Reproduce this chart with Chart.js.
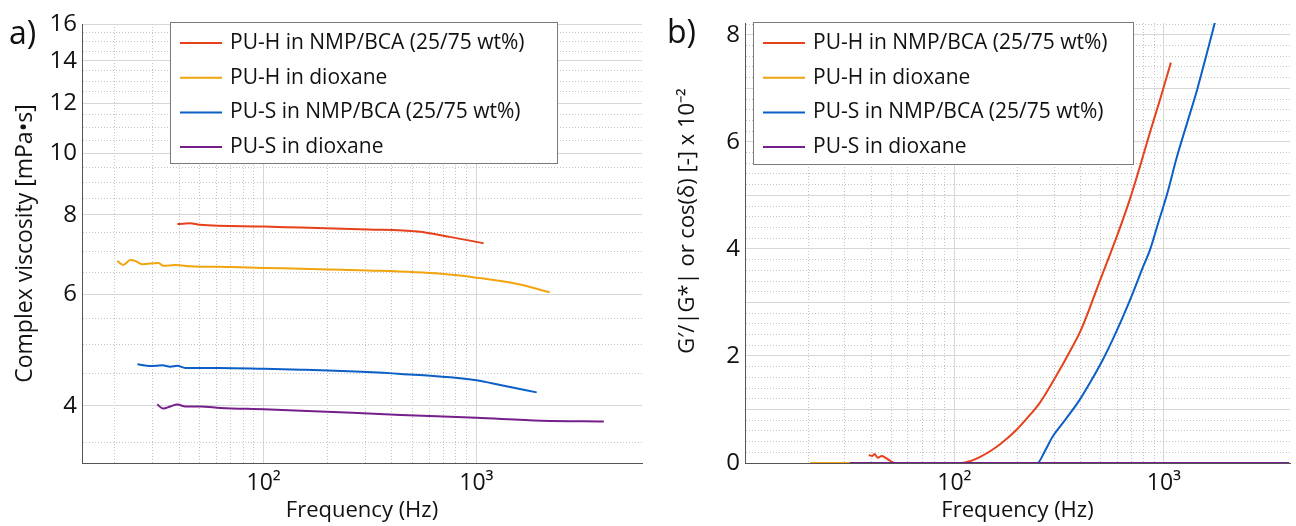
<!DOCTYPE html>
<html>
<head>
<meta charset="utf-8">
<script src="https://cdn.jsdelivr.net/npm/chart.js@4.4.0/dist/chart.umd.min.js"></script>
<style>
  html, body { margin: 0; padding: 0; background: #fff; }
  #wrap { position: relative; width: 1296px; height: 526px; }
  .panel { position: absolute; top: 0; width: 648px; height: 526px; }
  .tag { position: absolute; font-family: "Open Sans"; font-size: 32px; line-height: 1; color: #111; }
</style>
</head>
<body>
<div id="wrap">
  <div class="panel" style="left:0"><canvas id="viscChart" width="648" height="526"></canvas></div>
  <div class="panel" style="left:648px"><canvas id="ratioChart" width="648" height="526"></canvas></div>
  <div class="tag" style="left:9px;top:16px">a)</div>
  <div class="tag" style="left:667px;top:15px">b)</div>
</div>
<script>
// series names and colours
const seriesLabels = [
    "PU-H in NMP/BCA (25/75 wt%)",
    "PU-H in dioxane",
    "PU-S in NMP/BCA (25/75 wt%)",
    "PU-S in dioxane"
];
const seriesColors = ["#e5411b", "#f1a40e", "#0b5fc6", "#761e8c"];

// a) complex viscosity (mPa·s) vs frequency (Hz)
const freqPuhNmp = [39.3, 42, 45, 50, 100, 150, 310, 530, 760, 1080];
const viscPuhNmp = [7.74, 7.75, 7.76, 7.72, 7.67, 7.64, 7.59, 7.53, 7.38, 7.22];

const freqPuhDiox = [20.5, 21.9, 23.6, 24.9, 26.8, 32, 33.8, 38.5, 45.3, 70, 100, 150, 310, 683, 1000, 1580, 2210];
const viscPuhDiox = [6.77, 6.67, 6.79, 6.77, 6.69, 6.72, 6.65, 6.67, 6.64, 6.62, 6.60, 6.58, 6.54, 6.46, 6.37, 6.22, 6.04];

const freqPusNmp = [25.5, 29.3, 33.4, 36.4, 39.3, 42.8, 62.7, 100, 150, 442, 1000, 1310, 1920];
const viscPusNmp = [4.65, 4.62, 4.635, 4.61, 4.625, 4.59, 4.59, 4.575, 4.56, 4.49, 4.39, 4.31, 4.20];

const freqPusDiox = [31.6, 33.7, 36.4, 39.3, 42.8, 50.5, 62.7, 100, 150, 442, 1000, 2030, 3970];
const viscPusDiox = [4.02, 3.96, 3.99, 4.02, 3.99, 3.99, 3.97, 3.95, 3.93, 3.87, 3.83, 3.79, 3.78];

// b) G'/|G*| (x 10^-2) vs frequency (Hz)
const ratioFreqPuhNmp = [39, 40.5, 41.5, 43, 45, 48, 52, 108, 120, 132, 148, 164, 180, 198, 225, 255, 285, 318, 355, 396, 435, 478, 540, 610, 687, 770, 857, 960, 1080];
const ratioPuhNmp = [0.15, 0.13, 0.17, 0.10, 0.13, 0.07, 0, 0, 0.04, 0.11, 0.22, 0.34, 0.47, 0.62, 0.86, 1.12, 1.42, 1.74, 2.08, 2.43, 2.82, 3.25, 3.79, 4.34, 4.92, 5.55, 6.17, 6.80, 7.48];

const ratioFreqPuhDiox = [20.5, 2210];
const ratioPuhDiox = [0, 0];

const ratioFreqPusNmp = [32, 249, 270, 294, 340, 396, 450, 511, 570, 637, 710, 794, 860, 927, 1040, 1154, 1290, 1440, 1590, 1754];
const ratioPusNmp = [0, 0, 0.22, 0.49, 0.82, 1.18, 1.54, 1.93, 2.31, 2.73, 3.17, 3.66, 3.99, 4.41, 5.05, 5.72, 6.35, 6.97, 7.60, 8.24];

const ratioFreqPusDiox = [31.6, 3970];
const ratioPusDiox = [0, 0];

// tick labels
const xTickLabels = { 100: "10²", 1000: "10³" };
const viscTickLabels = [4, 6, 8, 10, 12, 14, 16];
const ratioTickLabels = [0, 2, 4, 6, 8];

const FONT = "Open Sans";

function pts(xs, ys) {
    return xs.map((x, i) => ({ x: x, y: ys[i] }));
}

function makeDatasets(groups) {
    // draw order like matlab: last series on top
    return groups.map((g, i) => ({
        label: seriesLabels[i],
        data: pts(g[0], g[1]),
        borderColor: seriesColors[i],
        backgroundColor: seriesColors[i],
        borderWidth: 2,
        pointRadius: 0,
        cubicInterpolationMode: "monotone",
        order: groups.length - i
    }));
}

// legend with a frame inside the plot
const boxLegend = {
    id: "boxLegend",
    afterDatasetsDraw(chart, args, opts) {
        const ctx = chart.ctx;
        ctx.save();
        ctx.fillStyle = "#fff";
        ctx.fillRect(opts.x, opts.y, opts.w, opts.h);
        ctx.strokeStyle = "#7a7a7a";
        ctx.lineWidth = 1;
        ctx.strokeRect(opts.x + 0.5, opts.y + 0.5, opts.w, opts.h);
        ctx.font = "21px '" + FONT + "'";
        ctx.textBaseline = "middle";
        chart.data.datasets.forEach((ds, i) => {
            const y = opts.y + 21 + i * 34.7;
            ctx.strokeStyle = ds.borderColor;
            ctx.lineWidth = 2;
            ctx.beginPath();
            ctx.moveTo(opts.x + 10, y);
            ctx.lineTo(opts.x + 52, y);
            ctx.stroke();
            ctx.fillStyle = "#111";
            ctx.fillText(ds.label, opts.x + 60, y);
        });
        ctx.restore();
    }
};

function gridStyle(isMajor) {
    return {
        color: ctx => (ctx.tick && isMajor(ctx.tick.value)) ? "#d6d6d6" : "#c4c4c4",
        lineWidth: 1,
        drawTicks: false
    };
}

function borderStyle(isMajor) {
    return {
        display: true,
        color: "#555",
        width: 1,
        dash: ctx => (ctx.tick && !isMajor(ctx.tick.value)) ? [1, 2] : []
    };
}

const xIsMajor = v => v === 10 || v === 100 || v === 1000;

function freqAxis(min, max, gridValues) {
    return {
        type: "logarithmic",
        min: min,
        max: max,
        bounds: "data",
        afterBuildTicks: s => { s.ticks = gridValues.map(v => ({ value: v })); },
        afterFit: s => { s.height = 63; },
        grid: gridStyle(xIsMajor),
        border: borderStyle(xIsMajor),
        ticks: {
            autoSkip: false,
            maxRotation: 0,
            padding: 7,
            color: "#111",
            font: { family: FONT, size: 23 },
            callback: v => xTickLabels[v] || ""
        },
        title: {
            display: true,
            text: "Frequency (Hz)",
            color: "#111",
            font: { family: FONT, size: 22 },
            padding: { top: 0, bottom: 2 }
        }
    };
}

function decadeSteps(from, to) {
    const out = [];
    for (let d = from; d < to; d *= 10) {
        for (let k = 2; k <= 10; k++) out.push(k * d);
    }
    return out;
}

const leftXGrid = decadeSteps(10, 1000).filter(v => v > 14 && v <= 6000);
const rightXGrid = decadeSteps(10, 1000).filter(v => v <= 4000);
const viscGrid = [];
for (let v = 3.5; v <= 16; v += 0.5) viscGrid.push(v);
const ratioGrid = [];
for (let i = 0; i <= 41; i++) ratioGrid.push(i / 5);

const viscIsMajor = v => viscTickLabels.includes(v);
const ratioIsMajor = v => Math.abs(v - Math.round(v)) < 1e-6;

new Chart(document.getElementById("viscChart").getContext("2d"), {
    type: "line",
    data: {
        datasets: makeDatasets([
            [freqPuhNmp, viscPuhNmp],
            [freqPuhDiox, viscPuhDiox],
            [freqPusNmp, viscPusNmp],
            [freqPusDiox, viscPusDiox]
        ])
    },
    options: {
        responsive: false,
        animation: false,
        layout: { padding: { top: 24, right: 6, left: 0, bottom: 0 } },
        scales: {
            x: freqAxis(14, 6000, leftXGrid),
            y: {
                type: "logarithmic",
                min: 3.25,
                max: 16,
                bounds: "data",
                afterBuildTicks: s => { s.ticks = viscGrid.map(v => ({ value: v })); },
                afterFit: s => { s.width = 82; },
                grid: gridStyle(viscIsMajor),
                border: borderStyle(viscIsMajor),
                ticks: {
                    autoSkip: false,
                    padding: 5,
                    color: "#111",
                    font: { family: FONT, size: 24 },
                    callback: v => viscTickLabels.includes(v) ? String(v) : ""
                },
                title: {
                    display: true,
                    text: "Complex viscosity [mPa•s]",
                    color: "#111",
                    font: { family: FONT, size: 23 },
                    padding: { top: 12, bottom: 0 }
                }
            }
        },
        plugins: {
            legend: { display: false },
            tooltip: { enabled: false },
            boxLegend: { x: 170, y: 22, w: 387, h: 141 }
        }
    },
    plugins: [boxLegend]
});

new Chart(document.getElementById("ratioChart").getContext("2d"), {
    type: "line",
    data: {
        datasets: makeDatasets([
            [ratioFreqPuhNmp, ratioPuhNmp],
            [ratioFreqPuhDiox, ratioPuhDiox],
            [ratioFreqPusNmp, ratioPusNmp],
            [ratioFreqPusDiox, ratioPusDiox]
        ])
    },
    options: {
        responsive: false,
        animation: false,
        layout: { padding: { top: 23, right: 6, left: 0, bottom: 0 } },
        scales: {
            x: freqAxis(10, 4000, rightXGrid),
            y: {
                type: "linear",
                min: 0,
                max: 8.22,
                bounds: "data",
                afterBuildTicks: s => { s.ticks = ratioGrid.map(v => ({ value: v })); },
                afterFit: s => { s.width = 97; },
                grid: gridStyle(ratioIsMajor),
                border: borderStyle(ratioIsMajor),
                ticks: {
                    autoSkip: false,
                    padding: 5,
                    color: "#111",
                    font: { family: FONT, size: 24 },
                    callback: v => ratioTickLabels.includes(v) ? String(v) : ""
                },
                title: {
                    display: true,
                    // leading en spaces lift the centred title a little, as in the figure
                    text: "\u2002\u2002\u2002\u2002G′/|G*| or cos(δ) [-] x 10⁻²",
                    color: "#111",
                    font: { family: FONT, size: 22 },
                    padding: { top: 27, bottom: 0 }
                }
            }
        },
        plugins: {
            legend: { display: false },
            tooltip: { enabled: false },
            boxLegend: { x: 105, y: 22, w: 380, h: 142 }
        }
    },
    plugins: [boxLegend]
});
</script>
</body>
</html>
